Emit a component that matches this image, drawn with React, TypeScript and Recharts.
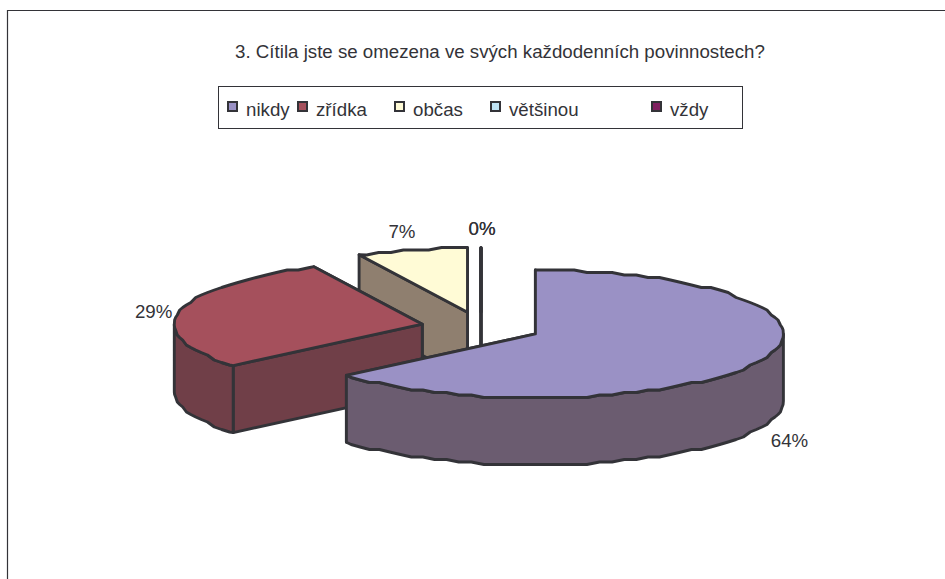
import { PieChart, Pie, Legend } from 'recharts';

const categories = ['nikdy', 'zřídka', 'občas', 'většinou', 'vždy'];
const shares = [63.8, 29, 7.2, 0, 0];
const topColors = ['#9A91C5', '#A5505C', '#FFFBD6', '#CCECFF', '#802060'];
const sideColors = ['#6B5C70', '#703F48', '#8F7F6F', '#6B7F88', '#4A2040'];

const legendColors = ['#9A91C5', '#A5505C', '#FFFBD6', '#BFE3F5', '#802060'];
const legendLeft = [8, 78, 175, 271, 432];

const TITLE = '3. Cítila jste se omezena ve svých každodenních povinnostech?';
const FONT = '"Liberation Sans", Arial, sans-serif';
const INK = '#333338';

const TILT = 0.258;
const DEPTH = 67;
const EXPLODE = 60;

// label nudge from the slice rim, by category
const labelNudge: Record<string, [number, number]> = {
  nikdy: [29, 80],
  'zřídka': [-26, 0],
  'občas': [-10, -18],
  'většinou': [1, -19],
  'vždy': [1, -19],
};

// drawn back to front, so the table runs anticlockwise from the top
const chartData = categories
  .map((name, i) => ({ name, value: shares[i], fill: topColors[i], side: sideColors[i], swatch: legendColors[i] }))
  .reverse();

const rad = (a: number) => (a * Math.PI) / 180;

function rimPoint(cx: number, cy: number, r: number, a: number) {
  return [cx + r * Math.cos(rad(a)), cy - r * TILT * Math.sin(rad(a))];
}

// coarse polyline, the rim in the source picture is stepped
function rim(cx: number, cy: number, r: number, from: number, to: number) {
  const pts: number[][] = [rimPoint(cx, cy, r, from)];
  for (let a = Math.ceil(from / 3) * 3; a < to; a += 3) {
    const [x, y] = rimPoint(cx, cy, r, a);
    pts.push([x, Math.round(y / 2.5) * 2.5]);
  }
  pts.push(rimPoint(cx, cy, r, to));
  return pts;
}

const toPath = (pts: number[][]) => 'M' + pts.map((p) => `${p[0].toFixed(1)},${p[1].toFixed(1)}`).join('L') + 'Z';
const drop = (pts: number[][]) => pts.map((p) => [p[0], p[1] + DEPTH]);

function SliceShape(props: any) {
  const { cx, cy, outerRadius: r, startAngle, endAngle, fill, payload } = props;
  const side = payload?.side ?? props.side;
  const mid = (startAngle + endAngle) / 2;
  const ox = cx + EXPLODE * Math.cos(rad(mid));
  const oy = cy - EXPLODE * TILT * Math.sin(rad(mid));
  const apex = [ox, oy];
  const edge = rim(ox, oy, r, startAngle, endAngle);
  const first = edge[0];
  const last = edge[edge.length - 1];

  const lineProps = { stroke: INK, strokeWidth: 2.9, strokeLinejoin: 'round' as const };

  // only the part of the rim in the lower half of the ellipse shows a wall
  const wallFrom = Math.max(startAngle, 180);
  const wallTo = Math.min(endAngle, 360);
  const front = wallTo > wallFrom ? rim(ox, oy, r, wallFrom, wallTo) : null;

  return (
    <g>
      <path d={toPath([apex, first, ...drop([first]), ...drop([apex])])} fill={side} {...lineProps} />
      <path d={toPath([apex, last, ...drop([last]), ...drop([apex])])} fill={side} {...lineProps} />
      {front && <path d={toPath([...front, ...drop(front).reverse()])} fill={side} {...lineProps} />}
      <path d={toPath([apex, ...edge])} fill={fill} {...lineProps} />
    </g>
  );
}

function sliceLabel(props: any) {
  const { cx, cy, outerRadius: r, midAngle, percent, name } = props;
  const ox = cx + EXPLODE * Math.cos(rad(midAngle));
  const oy = cy - EXPLODE * TILT * Math.sin(rad(midAngle));
  const [x, y] = rimPoint(ox, oy, r, midAngle);
  const [dx, dy] = labelNudge[name] ?? [0, 0];
  return (
    <text
      x={x + dx}
      y={y + dy}
      textAnchor="middle"
      dominantBaseline="central"
      fontFamily={FONT}
      fontSize={18.7}
      fill={INK}
    >
      {`${Math.round(percent * 100)}%`}
    </text>
  );
}

function LegendBox() {
  return (
    <div
      style={{
        position: 'relative',
        width: 525,
        height: 43,
        boxSizing: 'border-box',
        border: `1px solid ${INK}`,
        background: '#fff',
        fontFamily: FONT,
        fontSize: 18.7,
        color: INK,
      }}
    >
      {categories.map((name, i) => (
        <div key={name} style={{ position: 'absolute', left: legendLeft[i], top: 11, whiteSpace: 'nowrap', lineHeight: '24px' }}>
          <span
            style={{
              display: 'inline-block',
              width: 7,
              height: 7,
              border: `2.8px solid ${INK}`,
              background: legendColors[i],
              marginRight: 8,
              verticalAlign: 4,
            }}
          />
          {name}
        </div>
      ))}
    </div>
  );
}

export default function App() {
  return (
    <div style={{ position: 'absolute', left: 0, top: 0, width: 945, height: 579, overflow: 'hidden', background: '#fff' }}>
      <PieChart width={945} height={579} margin={{ top: 0, right: 0, bottom: 0, left: 0 }}>
        <line x1={7.5} y1={10} x2={7.5} y2={579} stroke={INK} strokeWidth={1.2} />
        <line x1={7} y1={10.5} x2={945} y2={10.5} stroke={INK} strokeWidth={1.2} />
        <text x={500} y={58} textAnchor="middle" fontFamily={FONT} fontSize={18.7} fill={INK}>
          {TITLE}
        </text>
        <Pie
          data={chartData}
          dataKey="value"
          nameKey="name"
          cx={481}
          cy={327.4}
          innerRadius={0}
          outerRadius={248}
          startAngle={90}
          endAngle={450}
          stroke="none"
          shape={SliceShape}
          label={sliceLabel}
          labelLine={false}
          isAnimationActive={false}
        />
        <Legend
          content={<LegendBox />}
          wrapperStyle={{ position: 'absolute', left: 218, top: 86, width: 525, height: 43 }}
        />
      </PieChart>
    </div>
  );
}
